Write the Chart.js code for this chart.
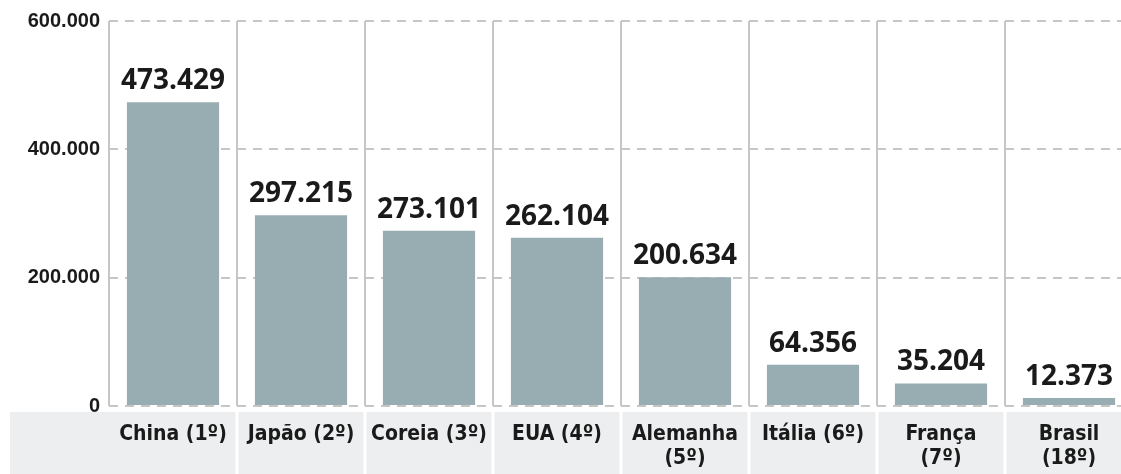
<!DOCTYPE html>
<html>
<head>
<meta charset="utf-8">
<script src="https://cdn.jsdelivr.net/npm/chart.js@4"></script>
<style>
  html, body { margin: 0; padding: 0; background: #fff; overflow: hidden; }
  #wrap { position: absolute; left: 0; top: 0; width: 1133px; height: 474px; }
</style>
</head>
<body>
<div id="wrap"><canvas id="chart"></canvas></div>
<script>
// Países e valores
const categories = [
  'China (1º)', 'Japão (2º)', 'Coreia (3º)', 'EUA (4º)',
  ['Alemanha', '(5º)'], 'Itália (6º)', ['França', '(7º)'], ['Brasil', '(18º)']
];
const values = [473429, 297215, 273101, 262104, 200634, 64356, 35204, 12373];
const valueLabels = ['473.429', '297.215', '273.101', '262.104', '200.634', '64.356', '35.204', '12.373'];
const yTicks = [0, 200000, 400000, 600000];
const yTickLabels = ['0', '200.000', '400.000', '600.000'];

const narrowFont = "'Liberation Sans Narrow', 'DejaVu Sans Condensed', sans-serif";

// faixa cinza atrás dos nomes dos países
const labelBand = {
  id: 'labelBand',
  beforeDraw(chart) {
    const { ctx, scales: { x }, chartArea } = chart;
    const top = chartArea.bottom + 6;
    ctx.save();
    ctx.fillStyle = '#eceeef';
    ctx.fillRect(10, top, chart.width, chart.height - top);
    ctx.strokeStyle = '#ffffff';
    ctx.lineWidth = 3;
    const half = (x.getPixelForValue(1) - x.getPixelForValue(0)) / 2;
    for (let i = 1; i < categories.length; i++) {
      const px = x.getPixelForValue(i) - half;
      ctx.beginPath();
      ctx.moveTo(px, top);
      ctx.lineTo(px, chart.height);
      ctx.stroke();
    }
    ctx.restore();
  }
};

// valores escritos acima de cada barra
const barValues = {
  id: 'barValues',
  afterDatasetsDraw(chart) {
    const { ctx } = chart;
    const meta = chart.getDatasetMeta(0);
    ctx.save();
    ctx.font = "bold 28px 'Open Sans', sans-serif";
    ctx.fillStyle = '#1a1a1a';
    ctx.textAlign = 'center';
    ctx.textBaseline = 'alphabetic';
    meta.data.forEach((bar, i) => {
      ctx.fillText(valueLabels[i], bar.x, bar.y - 13);
    });
    ctx.restore();
  }
};

const ctx = document.getElementById('chart').getContext('2d');
new Chart(ctx, {
  type: 'bar',
  data: {
    labels: categories,
    datasets: [{
      data: values,
      backgroundColor: '#97adb2',
      barPercentage: 0.72,
      categoryPercentage: 1
    }]
  },
  options: {
    responsive: true,
    maintainAspectRatio: false,
    animation: false,
    layout: { padding: { top: 21, left: 0, right: 0, bottom: 0 } },
    plugins: { legend: { display: false }, tooltip: { enabled: false } },
    scales: {
      x: {
        grid: { color: '#c6c6c6', lineWidth: 2, drawTicks: false },
        border: { display: false },
        ticks: {
          color: '#1a1a1a',
          padding: 16,
          maxRotation: 0,
          autoSkip: false,
          font: { family: narrowFont, size: 21, weight: 'bold', lineHeight: 1.15 }
        },
        afterFit(scale) { scale.height = 68; }
      },
      y: {
        min: 0,
        max: 600000,
        afterBuildTicks(scale) { scale.ticks = yTicks.map(v => ({ value: v })); },
        grid: { color: '#c6c6c6', lineWidth: 2, drawTicks: false },
        border: { display: false, dash: [9, 7] },
        ticks: {
          color: '#1a1a1a',
          padding: 9,
          font: { family: "'Liberation Sans', Arial, sans-serif", size: 20, weight: 'bold' },
          callback: (v) => yTickLabels[yTicks.indexOf(v)]
        },
        afterFit(scale) { scale.width = 109; }
      }
    }
  },
  plugins: [labelBand, barValues]
});
</script>
</body>
</html>
